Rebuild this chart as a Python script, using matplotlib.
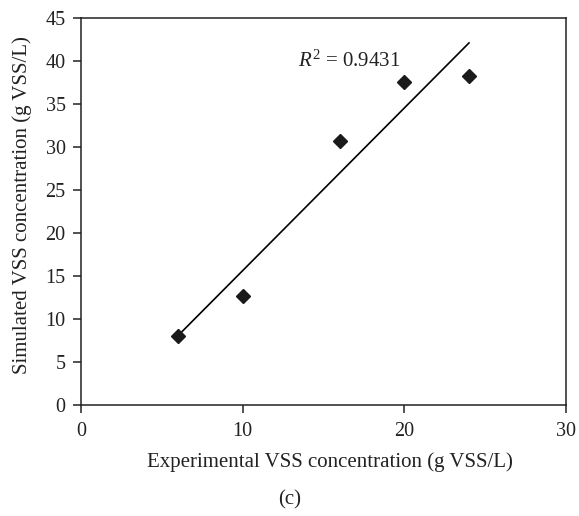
import numpy as np
import matplotlib
matplotlib.use("Agg")
import matplotlib.pyplot as plt

plt.rcParams['font.family'] = ['Liberation Serif', 'DejaVu Serif']
plt.rcParams['mathtext.fontset'] = 'custom'
plt.rcParams['mathtext.it'] = 'Liberation Serif:italic'
plt.rcParams['mathtext.rm'] = 'Liberation Serif'

experimental = [6, 10, 16, 20, 24]
simulated = [8.0, 12.7, 30.7, 37.6, 38.3]
r2_label = "0.9431"
x_ticks = [0, 10, 20, 30]
y_ticks = [0, 5, 10, 15, 20, 25, 30, 35, 40, 45]

W, H = 579, 516
fig = plt.figure(figsize=(W/100, H/100), dpi=100)
ax = fig.add_axes([81/W, 1-405/H, (566-81)/W, (405-18)/H])

x = np.array(experimental, dtype=float)
y = np.array(simulated, dtype=float)
slope, intercept = np.polyfit(x, y, 1)
xl = np.array([x.min(), x.max()])
ax.plot(xl, slope*xl + intercept, color='black', lw=1.2, zorder=2)
ax.plot(x, y, linestyle='none', marker='D', markersize=7.5, color='#1a1a1a', zorder=3)

ax.set_xlim(0, 30)
ax.set_ylim(0, 45)
ax.set_xticks(x_ticks)
ax.set_yticks(y_ticks)
ax.tick_params(direction='out', length=6, width=1.1, labelsize=14.5, colors='#222222')
ax.tick_params(axis='x', pad=6)
ax.tick_params(axis='y', pad=5)
for s in ax.spines.values():
    s.set_linewidth(1.1)
    s.set_color('#222222')

ax.text(16.6, 39.3, r"$R^2$ = " + r2_label, ha='center', va='baseline', fontsize=15, color='#222222')

fig.text(330/W, 1-462/H, "Experimental VSS concentration (g VSS/L)", ha='center', va='center',
         fontsize=15, color='#222222')
fig.text(22/W, 1-205/H, "Simulated VSS concentration (g VSS/L)", ha='center', va='center',
         rotation=90, fontsize=15, color='#222222')
fig.text(290/W, 1-500/H, "(c)", ha='center', va='center', fontsize=15, color='#222222')

fig.savefig("out.png", dpi=100)
